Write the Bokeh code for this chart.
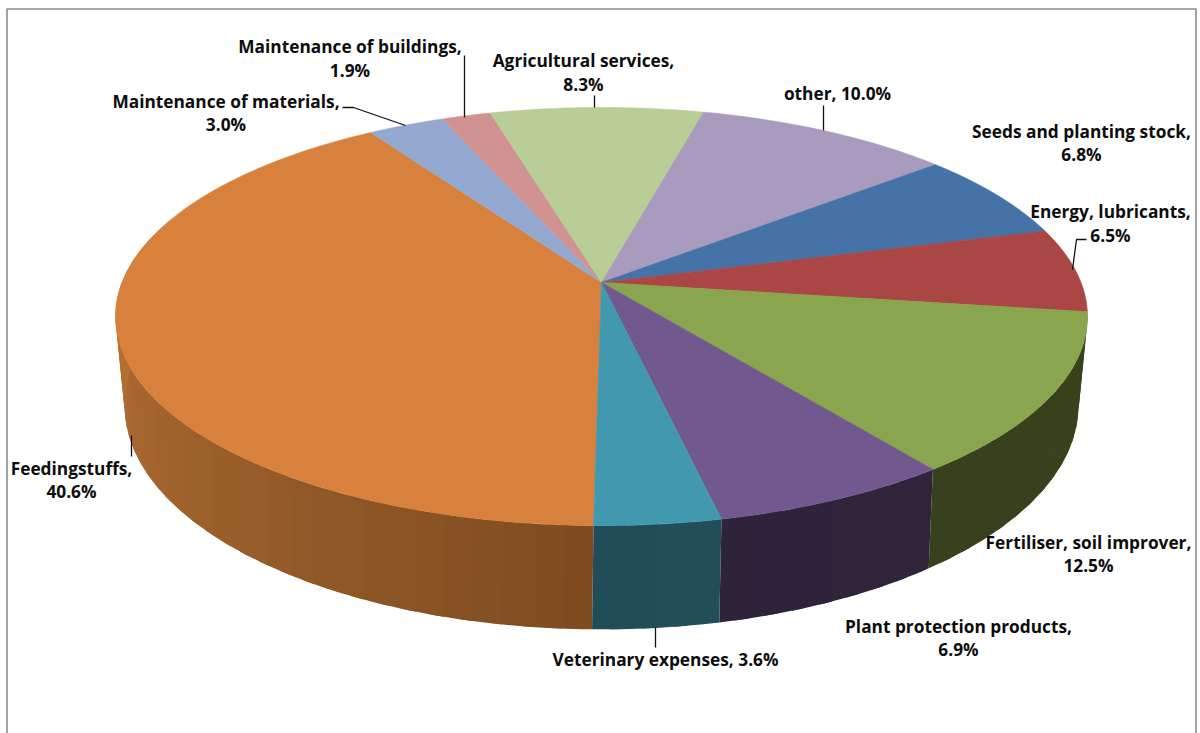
import math
from bokeh.plotting import figure
from bokeh.embed import file_html
from bokeh.resources import INLINE
from bokeh.core.properties import value

# ---- data (clockwise from the front of the pie)
names = ["Feedingstuffs", "Maintenance of materials", "Maintenance of buildings",
         "Agricultural services", "other", "Seeds and planting stock",
         "Energy, lubricants", "Fertiliser, soil improver",
         "Plant protection products", "Veterinary expenses"]
shares = [40.6, 3.0, 1.9, 8.3, 10.0, 6.8, 6.5, 12.5, 6.9, 3.6]
top_colors = ["#D8813C", "#93A9CF", "#D19392", "#B9CD96", "#A99BBD",
              "#4572A7", "#AA4643", "#89A54E", "#71588F", "#4198AF"]
side_near = ["#7F4C21", None, None, None, None, None, None, "#353F1C", "#2E2339", "#214D58"]
side_far = ["#BC7636", None, None, None, None, None, None, "#39431E", "#30253C", "#225360"]
one_line = {"other", "Veterinary expenses"}

# ---- layout of labels: (x centre, first line y, second line y)
label_pos = [(71, 468.3, 491.3), (225.5, 101.3, 124.3), (349.5, 46.3, 70.3), (583, 60.3, 84.3),
             (837, 93.3, None), (1081, 131.3, 154.3), (1110, 211.3, 235.3), (1088, 542.3, 565.3),
             (958, 626.3, 649.3), (665, 659.3, None)]
leader_xs = [[131, 131], [342, 353, 405], [464, 464], [594, 594], [823, 823],
             [1086, 1076, 1072], [655, 655]]
leader_ys = [[435, 456], [107, 107, 125], [55, 117], [95, 107], [105, 130],
             [239, 239, 269], [627, 647]]

# ---- projection of the pie's circle on the page
TOP = dict(cx=601, cy=282, a=479.5, b=203.5, k=0.1627, turn=0.0)
LOW = dict(cx=601, cy=365.8, a=469.6, b=217.0, k=0.175, turn=0.15)
START = 180.8


def rim(t, g):
    t = t + g["turn"]
    u, v = math.sin(math.radians(t)), math.cos(math.radians(t))
    d = 1 + g["k"] * v
    return g["cx"] + g["a"] * u / d, g["cy"] - g["b"] * v / d


def mix(c1, c2, f):
    a = [int(c1[i:i + 2], 16) for i in (1, 3, 5)]
    b = [int(c2[i:i + 2], 16) for i in (1, 3, 5)]
    return "#%02x%02x%02x" % tuple(round(x + (y - x) * f) for x, y in zip(a, b))


p = figure(width=1200, height=733, x_range=(0, 1200), y_range=(733, 0),
           output_backend="svg", toolbar_location=None, min_border=0,
           margin=(0, 0, 0, 0), background_fill_color="white",
           border_fill_color="white", outline_line_color=None)
p.xaxis.visible = False
p.yaxis.visible = False
p.grid.visible = False

# chart frame
p.line([6.5, 6.5, 1195.5, 1195.5], [733, 8.5, 8.5, 733], line_color="#8c8c8c", line_width=1.6)

total = sum(shares)
bounds = [START]
for s in shares:
    bounds.append(bounds[-1] + s / total * 360)

# side wall, in narrow bands so that the shading steps along the rim;
# each band runs under the next one, which leaves no seam between them
step = 3.0
sx, sy, sc = [], [], []
for i, _ in enumerate(shares):
    if side_near[i] is None:
        continue
    t0, t1 = bounds[i], bounds[i + 1]
    n = max(1, int((t1 - t0) / step))
    for j in range(n):
        a0 = t0 + (t1 - t0) * j / n
        a1 = t0 + (t1 - t0) * (j + 1) / n
        if (a0 % 360) > 280 or (a0 % 360) < 80:
            continue
        f = abs((a0 % 360) - 180) / 100
        a_end = min(a1 + 1.5, t1)
        m = max(2, int(a_end - a0) + 1)
        arc = [a0 + (a_end - a0) * q / m for q in range(m + 1)]
        pts = [rim(a, TOP) for a in arc] + [rim(a, LOW) for a in reversed(arc)]
        sx.append([q[0] for q in pts])
        sy.append([q[1] for q in pts])
        sc.append(mix(side_near[i], side_far[i], min(f, 1)))
p.patches(sx, sy, fill_color=sc, line_color=None)

# top face
for i, _ in enumerate(shares):
    t0, t1 = bounds[i], bounds[i + 1]
    n = max(4, int(t1 - t0))
    pts = [rim(t0 + (t1 - t0) * j / n, TOP) for j in range(n + 1)]
    xs = [TOP["cx"]] + [q[0] for q in pts]
    ys = [TOP["cy"]] + [q[1] for q in pts]
    p.patch(xs, ys, fill_color=top_colors[i], line_color=top_colors[i], line_width=0.6)

# leader lines
p.multi_line(leader_xs, leader_ys, line_color="#111111", line_width=1.3)

# labels
tx, ty, tt = [], [], []
for name, s, (x, y1, y2) in zip(names, shares, label_pos):
    pct = f"{s:.1f}%"
    if name in one_line:
        tx.append(x); ty.append(y1); tt.append(f"{name}, {pct}")
    else:
        tx += [x, x]; ty += [y1, y2]; tt += [f"{name},", pct]
p.text(tx, ty, text=tt, text_font=value("Open Sans"), text_font_style="bold",
       text_font_size="17.3px", text_color="#0d0d0d",
       text_align="center", text_baseline="middle")

open("out.html", "w").write(file_html(p, INLINE))
